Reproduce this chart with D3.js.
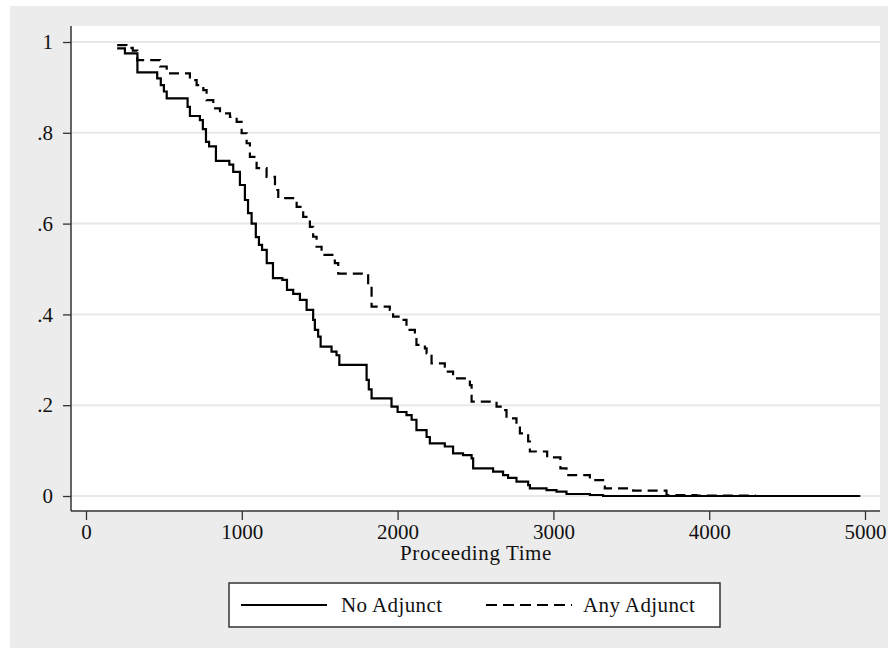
<!DOCTYPE html>
<html>
<head>
<meta charset="utf-8">
<script src="https://cdn.jsdelivr.net/npm/d3@7"></script>
<style>
  body { margin: 0; background: #fff; }
  svg text { font-family: 'Liberation Serif', 'DejaVu Serif', 'Noto Serif', serif; fill: #111; }
</style>
</head>
<body>
<svg id="chart" width="888" height="651"></svg>
<script>
// Kaplan-Meier style survival estimates: [time, survival]
var noAdjunct = [
  [200,.986],[250,.975],[330,.933],[457,.920],[480,.905],[500,.891],[518,.876],
  [652,.857],[667,.837],[731,.828],[750,.808],[770,.780],[790,.770],[834,.738],
  [920,.730],[945,.714],[988,.685],[1020,.652],[1040,.623],[1063,.600],[1090,.570],
  [1110,.553],[1130,.542],[1160,.513],[1200,.480],[1260,.476],[1290,.454],[1330,.445],
  [1373,.432],[1416,.410],[1458,.388],[1469,.366],[1490,.351],[1506,.329],[1576,.318],
  [1608,.310],[1626,.289],[1801,.256],[1815,.235],[1833,.215],[1961,.197],[2000,.185],
  [2057,.178],[2090,.168],[2121,.145],[2186,.130],[2207,.116],[2303,.109],[2356,.094],
  [2420,.090],[2475,.083],[2485,.061],[2613,.0535],[2677,.046],[2709,.040],[2763,.0315],
  [2838,.024],[2849,.017],[2956,.013],[3020,.0095],[3084,.0044],[3234,.0022],[3319,0],
  [4970,0]
];
var anyAdjunct = [
  [200,.993],[260,.987],[300,.981],[329,.960],[475,.946],[518,.931],[667,.916],
  [710,.905],[753,.894],[774,.872],[817,.854],[860,.843],[924,.835],[967,.824],
  [999,.799],[1031,.777],[1052,.747],[1095,.722],[1159,.703],[1213,.674],[1234,.656],
  [1352,.637],[1394,.615],[1437,.593],[1458,.571],[1480,.549],[1512,.531],[1597,.513],
  [1619,.490],[1811,.461],[1833,.417],[1950,.410],[1971,.395],[2015,.388],[2057,.366],
  [2111,.351],[2121,.333],[2175,.325],[2186,.314],[2218,.292],[2303,.285],[2314,.274],
  [2356,.259],[2464,.244],[2475,.208],[2635,.197],[2677,.189],[2699,.171],[2763,.156],
  [2785,.138],[2838,.120],[2849,.098],[2960,.085],[3045,.061],[3084,.046],[3234,.035],
  [3319,.028],[3330,.017],[3512,.0117],[3726,.0022],[3918,.001],[4300,.001]
];
var xTicks = [0, 1000, 2000, 3000, 4000, 5000];
var yTicks = [0, .2, .4, .6, .8, 1];
var seriesNames = ["No Adjunct", "Any Adjunct"];

var svg = d3.select("#chart");

// grey outer panel + white plot region
svg.append("rect").attr("x", 10).attr("y", 6).attr("width", 878).attr("height", 642).attr("fill", "#ececec");
var plot = {left: 71, top: 26, right: 880, bottom: 511};
svg.append("rect").attr("x", plot.left).attr("y", plot.top)
  .attr("width", plot.right - plot.left).attr("height", plot.bottom - plot.top).attr("fill", "#fff");

var x = d3.scaleLinear().domain([0, 5000]).range([86, 865]);
var y = d3.scaleLinear().domain([0, 1]).range([496, 42]);

// gridlines
svg.append("g").selectAll("line").data(yTicks).join("line")
  .attr("x1", plot.left).attr("x2", plot.right)
  .attr("y1", d => y(d)).attr("y2", d => y(d))
  .attr("stroke", "#e8e8e8").attr("stroke-width", 2);

// axes
var yfmt = function(d) { return d === 0 ? "0" : d === 1 ? "1" : d3.format(".1f")(d).replace(/^0/, ""); };
var gy = svg.append("g").attr("transform", "translate(" + plot.left + ",0)")
  .call(d3.axisLeft(y).tickValues(yTicks).tickFormat(yfmt).tickSize(8).tickSizeOuter(0).tickPadding(10));
var gx = svg.append("g").attr("transform", "translate(0," + plot.bottom + ")")
  .call(d3.axisBottom(x).tickValues(xTicks).tickFormat(d3.format("d")).tickSize(9).tickSizeOuter(0).tickPadding(4));
[gy, gx].forEach(function(g) {
  g.attr("font-family", null).attr("font-size", null);
  g.select(".domain").remove();
  g.selectAll(".tick line").attr("stroke", "#333").attr("stroke-width", 1.3);
  g.selectAll(".tick text").attr("font-size", 21).attr("fill", "#111");
});
svg.append("line").attr("x1", plot.left).attr("x2", plot.left).attr("y1", plot.top).attr("y2", plot.bottom)
  .attr("stroke", "#333").attr("stroke-width", 1.5);
svg.append("line").attr("x1", plot.left).attr("x2", plot.right).attr("y1", plot.bottom).attr("y2", plot.bottom)
  .attr("stroke", "#333").attr("stroke-width", 1.5);

svg.append("text").attr("x", 476).attr("y", 560).attr("text-anchor", "middle")
  .attr("font-size", 21).attr("letter-spacing", 0.6).text("Proceeding Time");

// survival curves
var line = d3.line().x(d => x(d[0])).y(d => y(d[1])).curve(d3.curveStepAfter);
svg.append("path").datum(anyAdjunct).attr("d", line).attr("fill", "none")
  .attr("stroke", "#000").attr("stroke-width", 2.2).attr("stroke-dasharray", "10,6");
svg.append("path").datum(noAdjunct).attr("d", line).attr("fill", "none")
  .attr("stroke", "#000").attr("stroke-width", 2.2);

// legend
svg.append("rect").attr("x", 229).attr("y", 583).attr("width", 491).attr("height", 44)
  .attr("fill", "#fff").attr("stroke", "#333").attr("stroke-width", 1.5);
var leg = [{x1: 241, x2: 327, tx: 341, dash: null}, {x1: 486, x2: 572, tx: 583, dash: "11,6"}];
leg.forEach(function(l, i) {
  svg.append("line").attr("x1", l.x1).attr("x2", l.x2).attr("y1", 605).attr("y2", 605)
    .attr("stroke", "#000").attr("stroke-width", 2).attr("stroke-dasharray", l.dash);
  svg.append("text").attr("x", l.tx).attr("y", 612).attr("font-size", 21).attr("letter-spacing", 0.4)
    .text(seriesNames[i]);
});
</script>
</body>
</html>
